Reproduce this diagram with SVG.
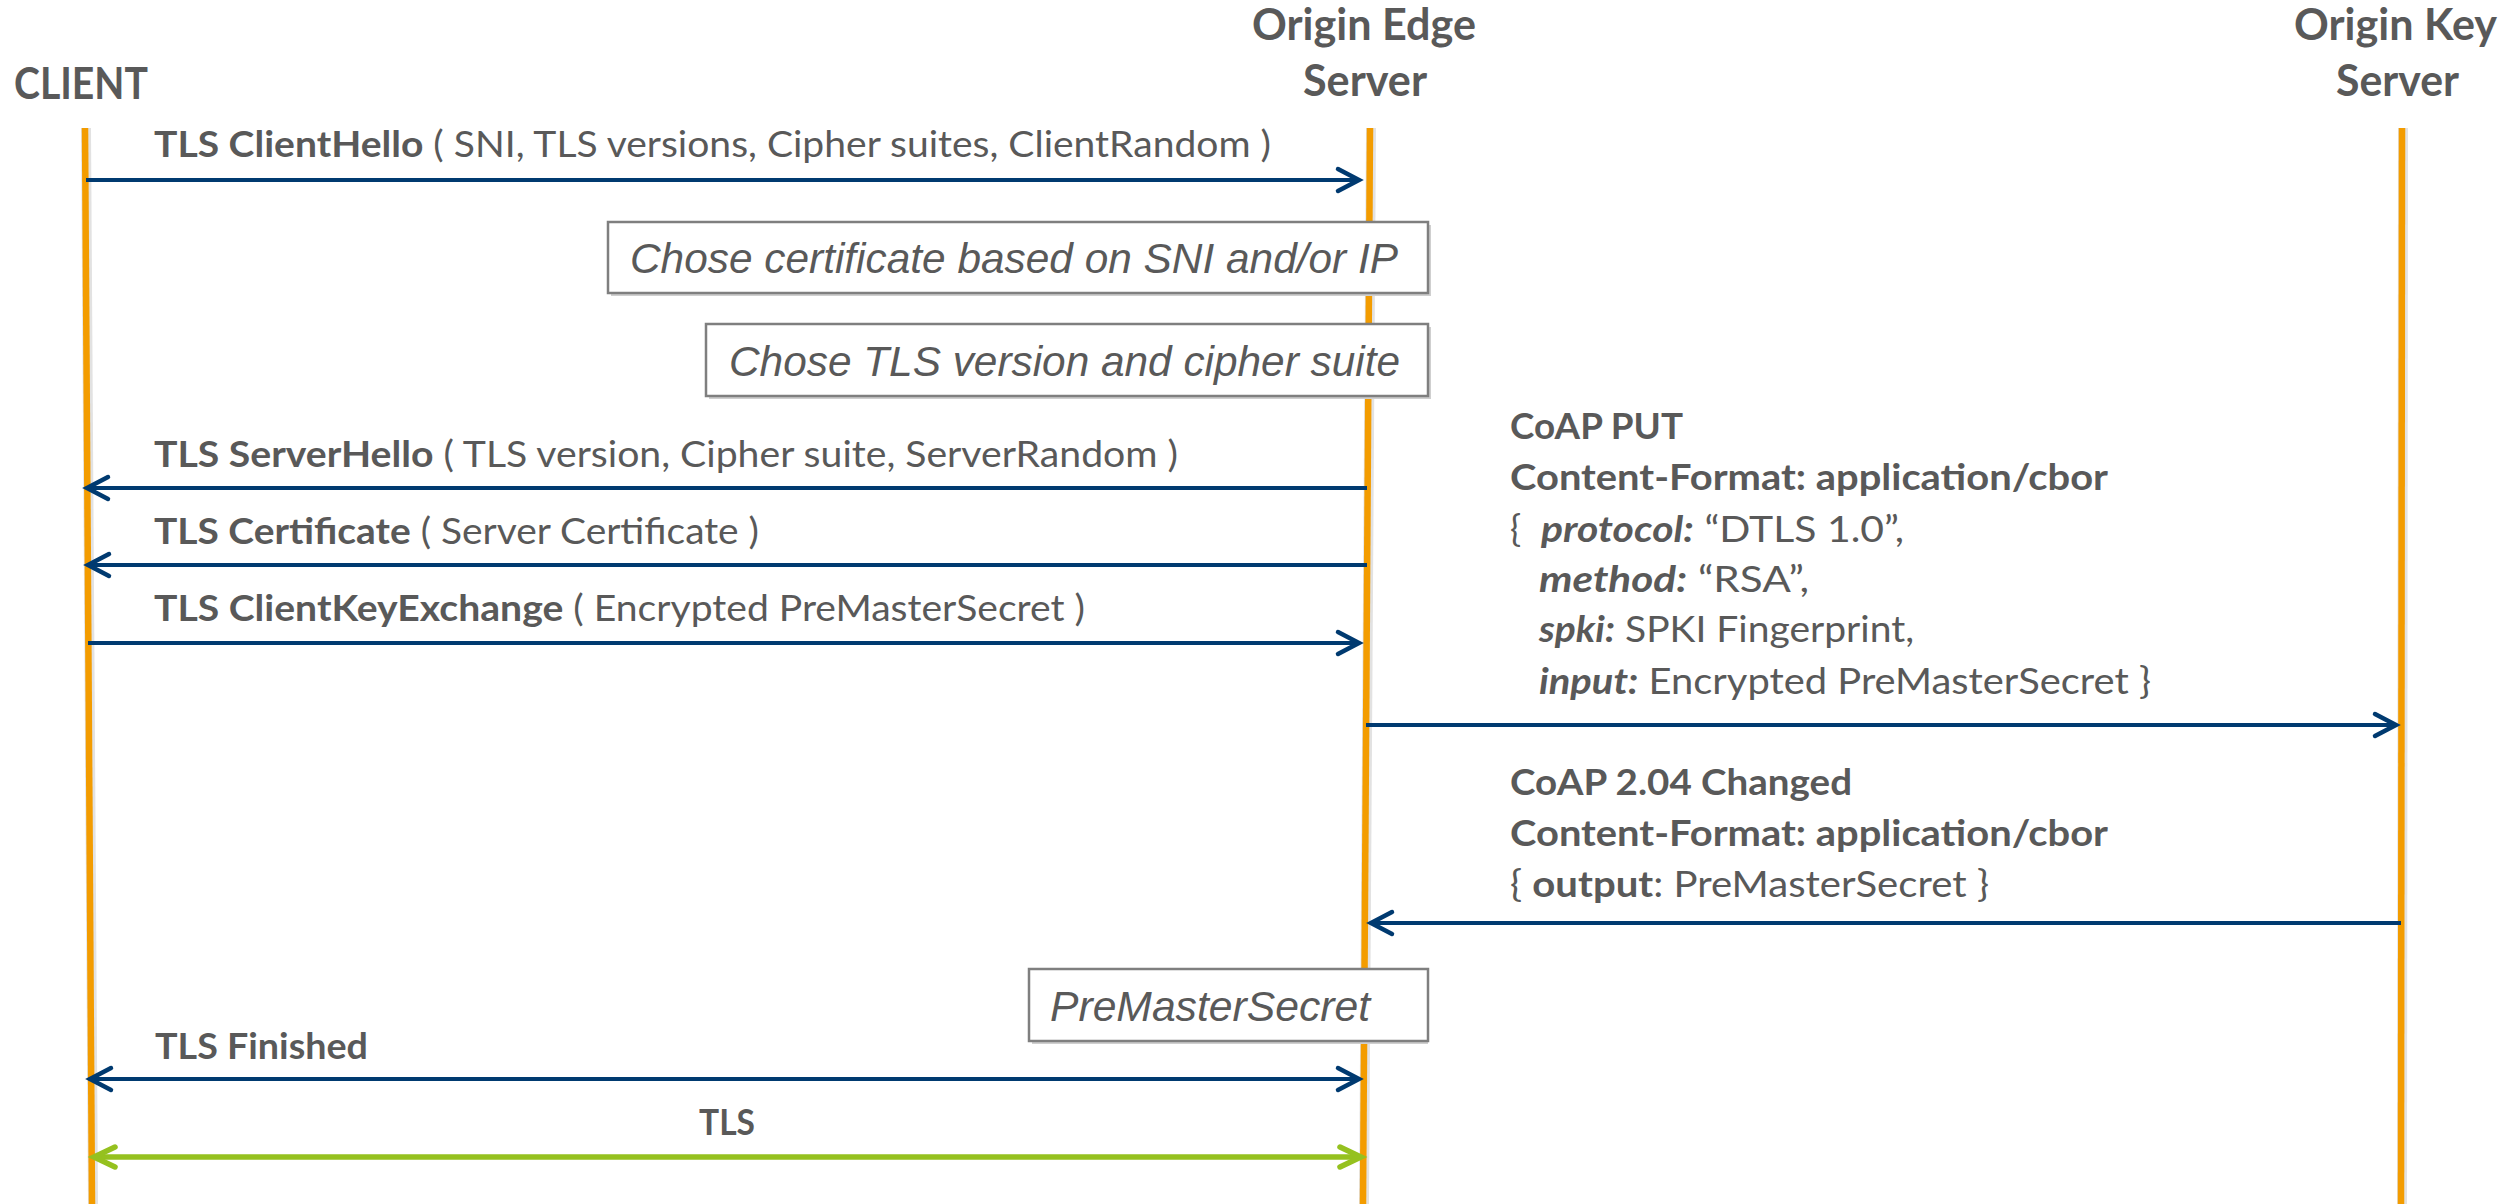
<svg xmlns="http://www.w3.org/2000/svg" width="2511" height="1204" viewBox="0 0 2511 1204">
<style>
text{font-family:Lato,"Open Sans","Liberation Sans",sans-serif;fill:#595959}
.t{font-size:43px;font-weight:700}
.l{font-size:37px}
.b{font-weight:700}
.bi{font-weight:700;font-style:italic}
.box{fill:#fff;stroke:#7f7f7f;stroke-width:2.5}
.shadow{fill:#cfcfcf}
.bt{font-family:"Liberation Sans",Arial,sans-serif;font-style:italic;font-size:42px}
.lifesh{stroke:#e2e2e2;stroke-width:10}
.life{stroke:#F39C00;stroke-width:6.5}
.msg{stroke:#003A70;stroke-width:4;fill:none}
.tls{stroke:#95C11F;stroke-width:5.5;fill:none}
</style>
<defs>
<marker id="ah" markerUnits="userSpaceOnUse" viewBox="-26 -15 30 30" refX="0" refY="0" markerWidth="30" markerHeight="30" orient="auto-start-reverse" overflow="visible"><path d="M-21,-11 L0,0 L-21,11" fill="none" stroke="#003A70" stroke-width="4.5" stroke-linecap="round"/></marker>
<marker id="ahg" markerUnits="userSpaceOnUse" viewBox="-26 -15 30 30" refX="0" refY="0" markerWidth="30" markerHeight="30" orient="auto-start-reverse" overflow="visible"><path d="M-21,-10 L0,0 L-21,10" fill="none" stroke="#95C11F" stroke-width="5.5" stroke-linecap="round"/></marker>
</defs>
<rect width="2511" height="1204" fill="#fff"/>

<g id="client">
<text class="t" x="14" y="99" textLength="134" lengthAdjust="spacingAndGlyphs">CLIENT</text>
<line class="lifesh" x1="86" y1="128" x2="93" y2="1204"/>
<line class="life" x1="85" y1="128" x2="92" y2="1204"/>
</g>
<g id="edge">
<text class="t" x="1252" y="40" textLength="224" lengthAdjust="spacingAndGlyphs">Origin Edge</text>
<text class="t" x="1303" y="96" textLength="124" lengthAdjust="spacingAndGlyphs">Server</text>
<line class="lifesh" x1="1371" y1="128" x2="1364" y2="1204"/>
<line class="life" x1="1370" y1="128" x2="1363" y2="1204"/>
</g>
<g id="key">
<text class="t" x="2294" y="40" textLength="203" lengthAdjust="spacingAndGlyphs">Origin Key</text>
<text class="t" x="2336" y="96" textLength="123" lengthAdjust="spacingAndGlyphs">Server</text>
<line class="lifesh" x1="2403" y1="128" x2="2402" y2="1204"/>
<line class="life" x1="2402" y1="128" x2="2401" y2="1204"/>
</g>

<g id="connectors">
<line class="msg" x1="86" y1="180" x2="1359" y2="180" marker-end="url(#ah)"/>
<text class="l" x="154" y="157" textLength="1117" lengthAdjust="spacingAndGlyphs"><tspan class="b">TLS ClientHello</tspan> ( SNI, TLS versions, Cipher suites, ClientRandom )</text>

<line class="msg" x1="1367" y1="488" x2="87" y2="488" marker-end="url(#ah)"/>
<text class="l" x="154" y="467" textLength="1024" lengthAdjust="spacingAndGlyphs"><tspan class="b">TLS ServerHello</tspan> ( TLS version, Cipher suite, ServerRandom )</text>

<line class="msg" x1="1367" y1="565" x2="88" y2="565" marker-end="url(#ah)"/>
<text class="l" x="154" y="544" textLength="605" lengthAdjust="spacingAndGlyphs"><tspan class="b">TLS Certificate</tspan> ( Server Certificate )</text>

<line class="msg" x1="88" y1="643" x2="1359" y2="643" marker-end="url(#ah)"/>
<text class="l" x="154" y="621" textLength="931" lengthAdjust="spacingAndGlyphs"><tspan class="b">TLS ClientKeyExchange</tspan> ( Encrypted PreMasterSecret )</text>

<line class="msg" x1="1366" y1="725" x2="2396" y2="725" marker-end="url(#ah)"/>
<text class="l b" x="1510" y="439" textLength="173" lengthAdjust="spacingAndGlyphs">CoAP PUT</text>
<text class="l b" x="1510" y="490" textLength="598" lengthAdjust="spacingAndGlyphs">Content-Format: application/cbor</text>
<text class="l" x="1510" y="542">{</text>
<text class="l" x="1541" y="542" textLength="363" lengthAdjust="spacingAndGlyphs"><tspan class="bi">protocol:</tspan> “DTLS 1.0”,</text>
<text class="l" x="1539" y="592" textLength="270" lengthAdjust="spacingAndGlyphs"><tspan class="bi">method:</tspan> “RSA”,</text>
<text class="l" x="1539" y="642" textLength="375" lengthAdjust="spacingAndGlyphs"><tspan class="bi">spki:</tspan> SPKI Fingerprint,</text>
<text class="l" x="1539" y="694" textLength="612" lengthAdjust="spacingAndGlyphs"><tspan class="bi">input:</tspan> Encrypted PreMasterSecret }</text>

<line class="msg" x1="2401" y1="923" x2="1371" y2="923" marker-end="url(#ah)"/>
<text class="l b" x="1510" y="795" textLength="342" lengthAdjust="spacingAndGlyphs">CoAP 2.04 Changed</text>
<text class="l b" x="1510" y="846" textLength="598" lengthAdjust="spacingAndGlyphs">Content-Format: application/cbor</text>
<text class="l" x="1510" y="897" textLength="479" lengthAdjust="spacingAndGlyphs">{ <tspan class="b">output</tspan>: PreMasterSecret }</text>

<line class="msg" x1="90" y1="1079" x2="1359" y2="1079" marker-start="url(#ah)" marker-end="url(#ah)"/>
<text class="l b" x="155" y="1059" textLength="213" lengthAdjust="spacingAndGlyphs">TLS Finished</text>

<line class="tls" x1="94" y1="1157" x2="1361" y2="1157" marker-start="url(#ahg)" marker-end="url(#ahg)"/>
<text class="l b" x="699" y="1135" textLength="56" lengthAdjust="spacingAndGlyphs">TLS</text>
</g>

<g id="box-cert">
<rect class="shadow" x="611" y="225" width="820" height="71"/>
<rect class="box" x="608" y="222" width="820" height="71"/>
<text class="bt" x="630" y="273" textLength="768" lengthAdjust="spacingAndGlyphs">Chose certificate based on SNI and/or IP</text>
</g>
<g id="box-version">
<rect class="shadow" x="709" y="327" width="722" height="72"/>
<rect class="box" x="706" y="324" width="722" height="72"/>
<text class="bt" x="729" y="376" textLength="671" lengthAdjust="spacingAndGlyphs">Chose TLS version and cipher suite</text>
</g>
<g id="box-pms">
<rect class="shadow" x="1032" y="972" width="396" height="72"/>
<rect class="box" x="1029" y="969" width="399" height="72"/>
<text class="bt" x="1050" y="1021" textLength="320" lengthAdjust="spacingAndGlyphs">PreMasterSecret</text>
</g>
</svg>
